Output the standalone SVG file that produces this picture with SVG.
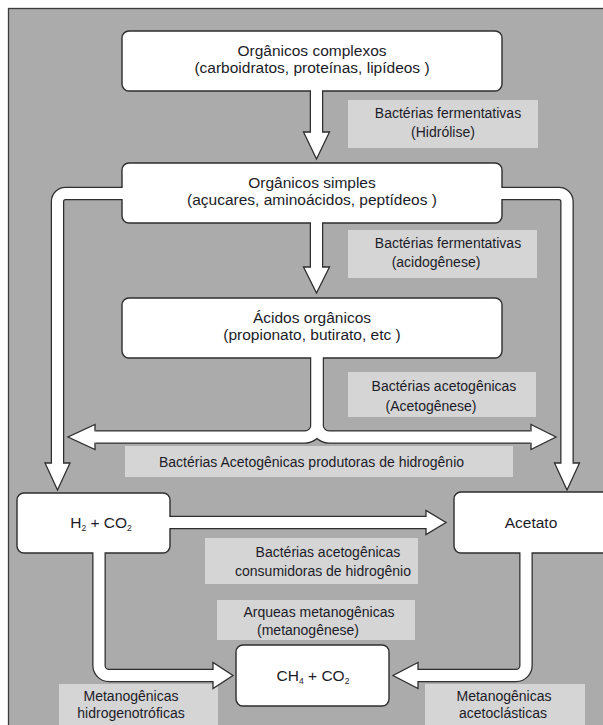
<svg xmlns="http://www.w3.org/2000/svg" width="603" height="725" viewBox="0 0 603 725">
<defs>
<style>
.node{fill:#fff;stroke:#2e2e2e;stroke-width:1.4}
.lab{fill:#d5d5d5;stroke:none}
.nt{font-family:"Liberation Sans",Arial,sans-serif;font-size:15.5px;fill:#1c1c28;text-anchor:middle}
.lt{font-family:"Liberation Sans",Arial,sans-serif;font-size:14px;fill:#1c1c28;text-anchor:middle}
.sub{font-size:8.5px}
.cd{fill:none;stroke:#2e2e2e;stroke-width:13.5}
.cw{fill:none;stroke:#fff;stroke-width:11}
.hd{fill:#fff;stroke:#2e2e2e;stroke-width:1.3;stroke-linejoin:miter}
</style>
</defs>
<rect x="0" y="0" width="603" height="725" fill="#fff"/>
<rect x="8.5" y="8.5" width="620" height="740" fill="#ababab" stroke="#3c3c3c" stroke-width="1.3"/>

<g id="labels">
<g id="lab-hidrolise"><rect class="lab" x="348" y="100" width="190" height="48"/>
<text class="lt" x="448" y="118">Bactérias fermentativas</text><text class="lt" x="443" y="137">(Hidrólise)</text></g>
<g id="lab-acidogenese"><rect class="lab" x="348" y="230" width="189" height="48"/>
<text class="lt" x="448" y="248">Bactérias fermentativas</text><text class="lt" x="436" y="267">(acidogênese)</text></g>
<g id="lab-acetogenese"><rect class="lab" x="348" y="372" width="188" height="45"/>
<text class="lt" x="444" y="391">Bactérias acetogênicas</text><text class="lt" x="431" y="411">(Acetogênese)</text></g>
<g id="lab-produtoras"><rect class="lab" x="125" y="446" width="388" height="31"/>
<text class="lt" x="311.5" y="467">Bactérias Acetogênicas produtoras de hidrogênio</text></g>
<g id="lab-consumidoras"><rect class="lab" x="205" y="538" width="213" height="46"/>
<text class="lt" x="328" y="557">Bactérias acetogênicas</text><text class="lt" x="323" y="576">consumidoras de hidrogênio</text></g>
<g id="lab-metanogenese"><rect class="lab" x="217" y="600" width="198" height="40"/>
<text class="lt" x="319" y="617">Arqueas metanogênicas</text><text class="lt" x="308" y="635">(metanogênese)</text></g>
<g id="lab-hidrogenotroficas"><rect class="lab" x="59" y="684" width="159" height="45"/>
<text class="lt" x="131" y="701">Metanogênicas</text><text class="lt" x="131" y="718">hidrogenotróficas</text></g>
<g id="lab-acetoclasticas"><rect class="lab" x="425" y="684" width="160" height="45"/>
<text class="lt" x="504" y="701">Metanogênicas</text><text class="lt" x="503" y="718">acetoclásticas</text></g>
</g>

<g id="n-complexos"><rect class="node" x="122" y="31" width="380" height="60" rx="7"/>
<text class="nt" x="312" y="56">Orgânicos complexos</text><text class="nt" x="312" y="73">(carboidratos, proteínas, lipídeos )</text></g>
<g id="n-simples"><rect class="node" x="122" y="163" width="380" height="60" rx="7"/>
<text class="nt" x="312" y="188">Orgânicos simples</text><text class="nt" x="312" y="205">(açucares, aminoácidos, peptídeos )</text></g>
<g id="n-acidos"><rect class="node" x="122" y="298" width="380" height="60" rx="7"/>
<text class="nt" x="312" y="323">Ácidos orgânicos</text><text class="nt" x="312" y="340">(propionato, butirato, etc )</text></g>
<g id="n-h2co2"><rect class="node" x="17" y="493" width="153" height="60" rx="7"/>
<text class="nt" x="101" y="528">H<tspan class="sub" dy="3">2</tspan><tspan dy="-3"> + CO</tspan><tspan class="sub" dy="3">2</tspan></text></g>
<g id="n-acetato"><rect class="node" x="454" y="492" width="170" height="61" rx="7"/>
<text class="nt" x="531" y="528">Acetato</text></g>
<g id="n-ch4co2"><rect class="node" x="236" y="645" width="153" height="61" rx="7"/>
<text class="nt" x="313" y="681">CH<tspan class="sub" dy="3">4</tspan><tspan dy="-3"> + CO</tspan><tspan class="sub" dy="3">2</tspan></text></g>

<g id="connectors">
<g id="c-hidrolise">
<path class="cd" d="M316.5,91 V133"/>
<polygon class="hd" points="303.5,132 329.5,132 316.5,159"/>
<path class="cw" d="M316.5,89 V134"/>
</g>
<g id="c-acidogenese">
<path class="cd" d="M316.5,223 V268"/>
<polygon class="hd" points="303.5,267 329.5,267 316.5,293"/>
<path class="cw" d="M316.5,221 V269"/>
</g>
<g id="c-simples-h2">
<path class="cd" d="M122,193.5 H65.5 A8,8 0 0 0 57.5,201.5 V464"/>
<polygon class="hd" points="45,463 70,463 57.5,490"/>
<path class="cw" d="M124,193.5 H65.5 A8,8 0 0 0 57.5,201.5 V465"/>
</g>
<g id="c-simples-acetato">
<path class="cd" d="M502,193.5 H559 A8,8 0 0 1 567,201.5 V464"/>
<polygon class="hd" points="554.5,463 579.5,463 567,490"/>
<path class="cw" d="M500,193.5 H559 A8,8 0 0 1 567,201.5 V465"/>
</g>
<g id="c-acidos-split">
<path class="cd" d="M317,358 V425 A12,12 0 0 1 305,437 H96"/>
<path class="cd" d="M317,358 V425 A12,12 0 0 0 329,437 H530"/>
<polygon class="hd" points="95,424.5 95,449.5 68,437"/>
<polygon class="hd" points="531,424.5 531,449.5 556,437"/>
<path class="cw" d="M317,356 V425 A12,12 0 0 1 305,437 H94"/>
<path class="cw" d="M317,356 V425 A12,12 0 0 0 329,437 H532"/>
</g>
<g id="c-h2-acetato">
<path class="cd" d="M170,522.5 H427"/>
<polygon class="hd" points="426,510.5 426,534.5 446,522.5"/>
<path class="cw" d="M168,522.5 H428"/>
</g>
<g id="c-h2-ch4">
<path class="cd" d="M99,553 V665.5 A10,10 0 0 0 109,675.5 H214"/>
<polygon class="hd" points="213,662.5 213,688.5 233,675.5"/>
<path class="cw" d="M99,551 V665.5 A10,10 0 0 0 109,675.5 H215"/>
</g>
<g id="c-acetato-ch4">
<path class="cd" d="M526,553 V665.5 A10,10 0 0 1 516,675.5 H417"/>
<polygon class="hd" points="418,662.5 418,688.5 393,675.5"/>
<path class="cw" d="M526,551 V665.5 A10,10 0 0 1 516,675.5 H416"/>
</g>
</g>
</svg>
